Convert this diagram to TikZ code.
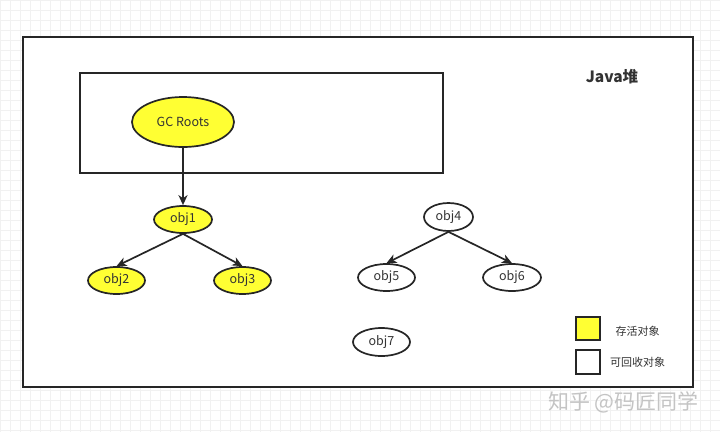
\documentclass[tikz,border=0pt]{standalone}
\usepackage{fontspec}
\setmainfont{Noto Sans CJK SC}
\usetikzlibrary{arrows.meta,shapes.geometric}
\definecolor{objyellow}{HTML}{FFFF33}
\definecolor{edge}{HTML}{262626}
\definecolor{gridc}{HTML}{F1F1F1}
\definecolor{txt}{HTML}{333333}
\definecolor{wm}{HTML}{C4C4C4}
\tikzset{
  obj/.style={ellipse, draw=edge, line width=1.7pt, inner sep=0pt, font=\fontsize{12.5}{14}\selectfont, text=txt},
  live/.style={obj, fill=objyellow},
  dead/.style={obj, fill=white},
  link/.style={draw=edge, line width=1.7pt, -{Stealth[length=10pt,width=9pt,inset=3pt]}},
  frame/.style={draw=edge, line width=1.7pt},
}
\begin{document}
\begin{tikzpicture}[x=1pt,y=-1pt]
\useasboundingbox (0,0) rectangle (720,432);
\fill[white] (0,0) rectangle (720,432);
\draw[gridc, line width=0.6pt] (0,0) grid[step=10pt] (720,432);
% outer heap box
\draw[frame, fill=white] (23,37) rectangle (693,387);
% inner roots box
\draw[frame] (80,73) rectangle (443,173);
% nodes
\node[live, minimum width=102pt, minimum height=50pt] (gc) at (183,122) {GC Roots};
\node[live, minimum width=58pt, minimum height=27pt] (o1) at (183,219.5) {obj1};
\node[live, minimum width=57pt, minimum height=27pt] (o2) at (116.5,280.5) {obj2};
\node[live, minimum width=57pt, minimum height=27pt] (o3) at (242.5,280.5) {obj3};
\node[dead, minimum width=49pt, minimum height=28pt] (o4) at (448.5,217) {obj4};
\node[dead, minimum width=57pt, minimum height=27pt] (o5) at (386.5,277.5) {obj5};
\node[dead, minimum width=58pt, minimum height=27pt] (o6) at (512,277.5) {obj6};
\node[dead, minimum width=57pt, minimum height=28pt] (o7) at (381.5,342) {obj7};
% edges
\draw[link] (gc.south) -- (o1.north);
\draw[link] (o1.south) -- (o2.north);
\draw[link] (o1.south) -- (o3.north);
\draw[link] (o4.south) -- (o5.north);
\draw[link] (o4.south) -- (o6.north);
% title
\node[font=\bfseries\fontsize{15.5}{18}\selectfont, text=txt] (title) at (612,77) {Java堆};
% legend
\node[draw=edge, line width=1.7pt, fill=objyellow, minimum width=24pt, minimum height=23pt, inner sep=0pt] (lg1) at (588,328.5) {};
\node[draw=edge, line width=1.7pt, fill=white, minimum width=24pt, minimum height=24pt, inner sep=0pt] (lg2) at (588,362) {};
\node[font=\fontsize{11}{13}\selectfont, text=txt] (lt1) at (637.5,331) {存活对象};
\node[font=\fontsize{11}{13}\selectfont, text=txt] (lt2) at (637.5,362) {可回收对象};
% watermark
\node[font=\fontsize{21}{23}\selectfont, text=wm] (wmk) at (623.5,402) {知乎 @码匠同学};
\end{tikzpicture}
\end{document}
